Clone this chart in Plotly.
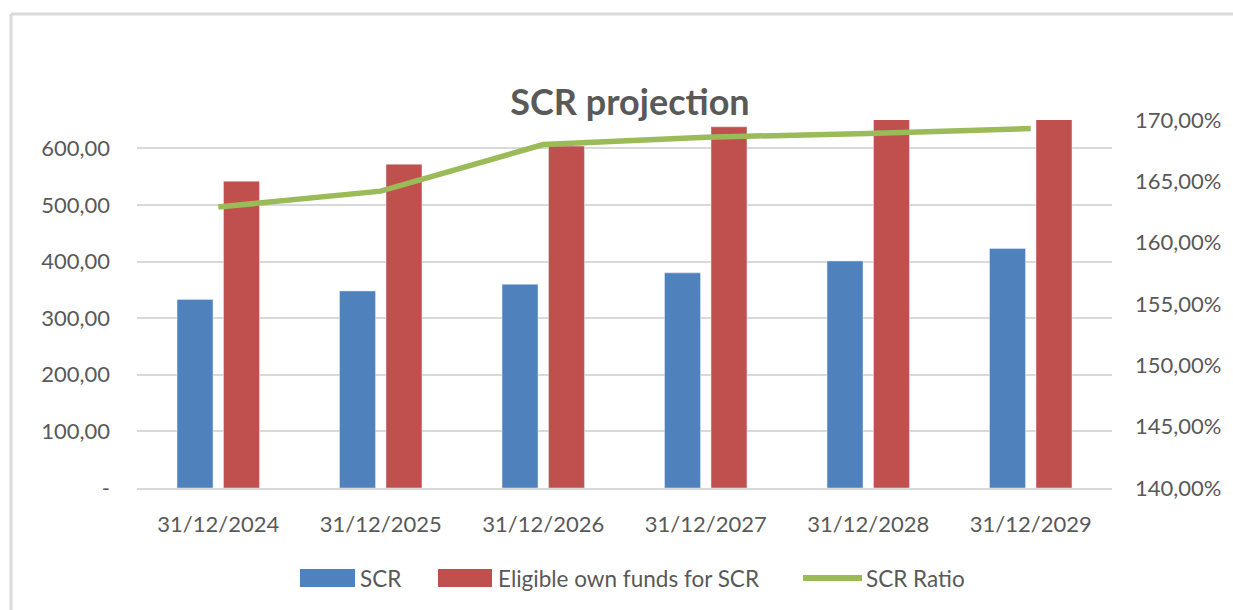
import plotly.graph_objects as go

categories = ["31/12/2024", "31/12/2025", "31/12/2026", "31/12/2027", "31/12/2028", "31/12/2029"]
scr = [333, 348, 360, 380, 401, 423]
eligible_own_funds = [542, 572, 604, 638, 677, 715]
scr_ratio = [162.9, 164.2, 168.0, 168.6, 168.9, 169.3]

left_tickvals = [0, 100, 200, 300, 400, 500, 600]
left_ticktext = ["-", "100,00", "200,00", "300,00", "400,00", "500,00", "600,00"]
right_tickvals = [140, 145, 150, 155, 160, 165, 170]
right_ticktext = ["140,00%", "145,00%", "150,00%", "155,00%", "160,00%", "165,00%", "170,00%"]

series_names = ["SCR", "Eligible own funds for SCR", "SCR Ratio"]
series_colors = ["#4F81BD", "#C0504D", "#9BBB59"]

W, H = 1233, 610
L, R, T, B = 137, 121, 120, 122
pw, ph = W - L - R, H - T - B

def px(x):
    return (x - L) / pw

def py(y):
    return (H - B - y) / ph

TXT = "#595959"
FONT = "Lato"

fig = go.Figure()
fig.add_trace(go.Bar(x=categories, y=scr, name=series_names[0], marker_color=series_colors[0]))
fig.add_trace(go.Bar(x=categories, y=eligible_own_funds, name=series_names[1], marker_color=series_colors[1]))
fig.add_trace(go.Scatter(x=categories, y=scr_ratio, name=series_names[2], yaxis="y2", mode="lines",
                         line=dict(color=series_colors[2], width=5.5)))

# manual legend (Excel-like wide swatches)
LEG_Y = 578
shapes = [
    dict(type="line", xref="paper", yref="paper", x0=px(11), x1=px(1240), y0=py(14), y1=py(14),
         line=dict(color="#DADADA", width=3)),
    dict(type="line", xref="paper", yref="paper", x0=px(11), x1=px(11), y0=py(14), y1=py(620),
         line=dict(color="#DADADA", width=3)),
    dict(type="rect", xref="paper", yref="paper", x0=px(300), x1=px(355), y0=py(LEG_Y - 9), y1=py(LEG_Y + 9),
         fillcolor=series_colors[0], line=dict(width=0)),
    dict(type="rect", xref="paper", yref="paper", x0=px(438), x1=px(492), y0=py(LEG_Y - 9), y1=py(LEG_Y + 9),
         fillcolor=series_colors[1], line=dict(width=0)),
    dict(type="line", xref="paper", yref="paper", x0=px(803), x1=px(862), y0=py(LEG_Y), y1=py(LEG_Y),
         line=dict(color=series_colors[2], width=6)),
]
annotations = []
for name, x0 in zip(series_names, [358, 496, 864]):
    annotations.append(dict(text=name, xref="paper", yref="paper", x=px(x0), y=py(LEG_Y),
                            xanchor="left", yanchor="middle", showarrow=False,
                            font=dict(family=FONT, size=22.5, color=TXT)))

fig.update_layout(
    width=W, height=H,
    margin=dict(l=L, r=R, t=T, b=B),
    paper_bgcolor="white", plot_bgcolor="white",
    font=dict(family=FONT, color=TXT, size=22),
    barmode="group", bargap=0.428, bargroupgap=0.226,
    showlegend=False,
    title=dict(text="<b>SCR projection</b>", x=px(630), xref="paper", xanchor="center",
               y=1 - 102 / H, yanchor="middle", font=dict(family=FONT, size=36, color=TXT)),
    xaxis=dict(showgrid=False, showline=True, linecolor="#D9D9D9", linewidth=1.5,
               ticks="", ticklabelstandoff=16, tickfont=dict(size=22, color=TXT)),
    yaxis=dict(range=[0, 650], tickvals=left_tickvals, ticktext=left_ticktext,
               showgrid=True, gridcolor="#D9D9D9", gridwidth=1.5, zeroline=False,
               ticklabelstandoff=26, tickfont=dict(size=22, color=TXT)),
    yaxis2=dict(range=[140, 170], tickvals=right_tickvals, ticktext=right_ticktext,
                overlaying="y", side="right", showgrid=False, zeroline=False,
                ticklabelstandoff=22, tickfont=dict(size=22, color=TXT)),
    shapes=shapes,
    annotations=annotations,
)

fig.write_html("out.html", config={"displayModeBar": False},
               post_script="document.body.style.margin='0';document.body.style.overflow='hidden';")
